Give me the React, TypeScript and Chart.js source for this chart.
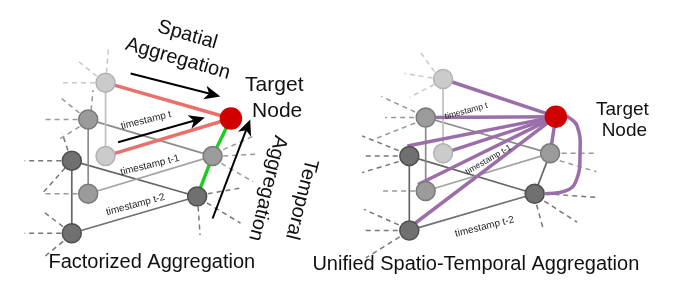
import React, { useEffect, useRef } from "react";
import { Chart, registerables } from "chart.js";
Chart.register(...registerables);

// Nodes: A(t top), B(t-1 upper), C(t lower), D(t-2 upper), E(t-1 right), F(t-1 lower), G(t-2 right), H(t-2 lower), T(target)
const leftNodeX = [97, 79, 97, 62, 208, 79, 192, 62, 227];
const leftNodeY = [77, 117, 157, 162, 157, 198, 201, 241, 116];
const rightNodeX = [447, 429, 447, 412, 558, 429, 542, 412, 564];
const rightNodeY = [73, 115, 154, 157, 154, 195, 198, 238, 114];
const nodeTier = [0, 1, 0, 2, 1, 1, 2, 2, 3];

// intra-timestamp grid edges (node index pairs) and tone
const gridFrom = [0, 1, 3, 1, 5, 3, 7, 4];
const gridTo = [2, 5, 7, 4, 4, 6, 6, 6];
const gridTone = [0, 1, 2, 1, 4, 2, 3, 2];

// factorized aggregation edges
const redFrom = [0, 2];
const greenPath = [8, 4, 6];

// unified aggregation edge end points (from target)
const purpleX = [447, 429, 447, 410, 558, 421, 417];
const purpleY = [73, 115, 154, 146, 154, 188, 231];
const curveX = [575, 586, 589, 585, 574, 553];
const curveY = [113, 124, 155, 184, 195, 198];

// dashed neighbour stubs
const stubX1 = [98, 88, 86, 82, 68, 70, 70, 58, 51, 55, 68, 51, 53, 53, 219, 219, 217, 193, 203, 202,
  438, 436, 438, 417, 418, 418, 400, 401, 401, 418, 400, 401, 402, 570, 568, 553, 552, 544];
const stubY1 = [66, 70, 77, 107, 117, 110, 125, 151, 162, 170, 198, 241, 234, 250, 150, 157, 165, 212, 198, 208,
  65, 72, 79, 115, 109, 121, 157, 151, 163, 195, 238, 232, 245, 154, 162, 198, 206, 210];
const stubX2 = [100, 68, 52, 84, 32, 50, 50, 52, 13, 32, 33, 13, 32, 32, 253, 253, 250, 195, 236, 237,
  423, 407, 412, 387, 383, 377, 363, 363, 363, 383, 363, 365, 367, 606, 606, 606, 586, 551];
const stubY2 = [40, 53, 77, 85, 117, 93, 138, 132, 162, 197, 198, 241, 217, 268, 134, 155, 185, 243, 192, 230,
  43, 67, 93, 115, 92, 138, 157, 135, 175, 195, 238, 215, 268, 154, 174, 202, 229, 237];
const stubTone = [0, 0, 0, 1, 1, 1, 1, 2, 2, 2, 1, 2, 2, 2, 1, 1, 1, 2, 2, 2,
  0, 0, 0, 1, 1, 1, 2, 2, 2, 1, 2, 2, 2, 1, 1, 2, 2, 2];

// arrows
const arrowX1 = [123, 110, 208];
const arrowY1 = [67, 142, 225];
const arrowX2 = [216, 200, 247];
const arrowY2 = [92, 115, 117];

// labels
const labelTexts = ["Spatial", "Aggregation", "Target", "Node", "Temporal", "Aggregation",
  "timestamp t", "timestamp t-1", "timestamp t-2", "Factorized Aggregation",
  "Target", "Node", "timestamp t", "timestamp t-1", "timestamp t-2", "Unified Spatio-Temporal Aggregation"];
const labelX = [182, 172, 272, 275, 300, 265, 139, 143, 128, 145, 633, 635, 471, 494, 490, 481];
const labelY = [25, 51, 80, 108, 204, 192, 118, 167, 210, 273, 106, 129, 108, 161, 234, 275];
const labelSize = [20, 20, 21, 21, 20, 20, 10, 10, 10, 20, 19, 19, 8.5, 8.5, 10, 20];
const labelAngle = [16, 16, 0, 0, 104, 104, -14, -14, -15, 0, 0, 0, -15, -30, -14, 0];

const FONT = '"Liberation Sans", Arial, sans-serif';
const nodeFill = ["#cbcbcb", "#9b9b9b", "#707070", "#d00000"];
const nodeStroke = ["#b3b3b3", "#7a7a7a", "#4f4f4f", "#d00000"];
const gridColor = ["#c0c0c0", "#8c8c8c", "#666666", "#707070", "#a3a3a3"];
const stubColor = ["#c8c8c8", "#999999", "#777777"];

export default function App() {
  const ref = useRef<HTMLCanvasElement>(null);
  useEffect(() => {
    const canvas = ref.current!;
    const datasets: any[] = [];
    const seg = (xs: number[], ys: number[], color: string, width: number, order: number, dash: number[] = [], tension = 0) => {
      datasets.push({
        data: xs.map((x, i) => ({ x, y: ys[i] })),
        showLine: true,
        borderColor: color,
        borderWidth: width,
        borderDash: dash,
        pointRadius: 0,
        pointHoverRadius: 0,
        tension,
        order,
      });
    };
    // stubs
    for (let i = 0; i < stubX1.length; i++) {
      seg([stubX1[i], stubX2[i]], [stubY1[i], stubY2[i]], stubColor[stubTone[i]], 1.5, 4, [5, 4]);
    }
    // grid edges
    const diagrams = [
      { nx: leftNodeX, ny: leftNodeY, n: 7 },
      { nx: rightNodeX, ny: rightNodeY, n: 8 },
    ];
    diagrams.forEach((d) => {
      for (let i = 0; i < d.n; i++) {
        const a = gridFrom[i], b = gridTo[i];
        seg([d.nx[a], d.nx[b]], [d.ny[a], d.ny[b]], gridColor[gridTone[i]], 1.7, 3);
      }
    });
    // factorized
    redFrom.forEach((a) => {
      seg([leftNodeX[a], leftNodeX[8]], [leftNodeY[a], leftNodeY[8]], "#e9706b", 3.5, 2);
    });
    seg(greenPath.map((i) => leftNodeX[i]), greenPath.map((i) => leftNodeY[i]), "#1fcc1f", 3.5, 2);
    // unified
    purpleX.forEach((x, i) => {
      seg([rightNodeX[8], x], [rightNodeY[8], purpleY[i]], "#9a6ea8", 3.5, 2);
    });
    seg(curveX, curveY, "#9a6ea8", 3.5, 2, [], 0.45);
    // nodes
    [[leftNodeX, leftNodeY], [rightNodeX, rightNodeY]].forEach(([xs, ys]) => {
      datasets.push({
        data: xs.map((x, i) => ({ x, y: ys[i] })),
        showLine: false,
        pointRadius: nodeTier.map((t) => (t === 3 ? 10.5 : 9.5)),
        pointHoverRadius: nodeTier.map((t) => (t === 3 ? 10.5 : 9.5)),
        pointBackgroundColor: nodeTier.map((t) => nodeFill[t]),
        pointBorderColor: nodeTier.map((t) => nodeStroke[t]),
        pointBorderWidth: 1.5,
        order: 0,
      });
    });

    const overlay = {
      id: "overlay",
      afterDatasetsDraw(chart: any) {
        const ctx = chart.ctx as CanvasRenderingContext2D;
        const sx = chart.scales.x, sy = chart.scales.y;
        ctx.save();
        // arrows
        for (let i = 0; i < arrowX1.length; i++) {
          const x1 = sx.getPixelForValue(arrowX1[i]), y1 = sy.getPixelForValue(arrowY1[i]);
          const x2 = sx.getPixelForValue(arrowX2[i]), y2 = sy.getPixelForValue(arrowY2[i]);
          const dx = x2 - x1, dy = y2 - y1, len = Math.hypot(dx, dy);
          const ux = dx / len, uy = dy / len, nx = -uy, ny = ux;
          const L = 16, W = 7, notch = 4.5;
          ctx.strokeStyle = "#000";
          ctx.fillStyle = "#000";
          ctx.lineWidth = 2;
          ctx.beginPath();
          ctx.moveTo(x1, y1);
          ctx.lineTo(x2 - ux * (L - notch), y2 - uy * (L - notch));
          ctx.stroke();
          ctx.beginPath();
          ctx.moveTo(x2, y2);
          ctx.lineTo(x2 - ux * L + nx * W, y2 - uy * L + ny * W);
          ctx.lineTo(x2 - ux * (L - notch), y2 - uy * (L - notch));
          ctx.lineTo(x2 - ux * L - nx * W, y2 - uy * L - ny * W);
          ctx.closePath();
          ctx.fill();
        }
        // labels
        ctx.textAlign = "center";
        ctx.textBaseline = "middle";
        for (let i = 0; i < labelTexts.length; i++) {
          ctx.save();
          ctx.translate(sx.getPixelForValue(labelX[i]), sy.getPixelForValue(labelY[i]));
          ctx.rotate((labelAngle[i] * Math.PI) / 180);
          ctx.font = `${labelSize[i]}px ${FONT}`;
          ctx.fillStyle = labelSize[i] < 12 ? "#222" : "#111";
          ctx.fillText(labelTexts[i], 0, 0);
          ctx.restore();
        }
        ctx.restore();
      },
    };

    const chart = new Chart(canvas, {
      type: "scatter",
      data: { datasets },
      options: {
        animation: false,
        responsive: false,
        events: [],
        layout: { padding: 0 },
        plugins: { legend: { display: false }, tooltip: { enabled: false } },
        scales: {
          x: { type: "linear", min: 0, max: 673, display: false },
          y: { type: "linear", min: 0, max: 292, reverse: true, display: false },
        },
      },
      plugins: [overlay],
    });
    return () => chart.destroy();
  }, []);
  return (
    <div style={{ position: "absolute", left: 0, top: 0, width: 673, height: 292, background: "#fff" }}>
      <canvas ref={ref} width={673} height={292} style={{ display: "block" }} />
    </div>
  );
}
